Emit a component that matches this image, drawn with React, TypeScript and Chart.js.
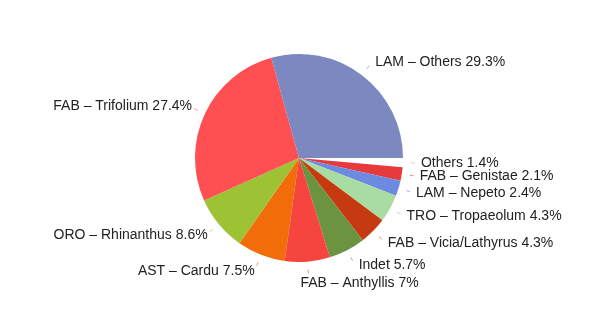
import React, { useEffect, useRef } from "react";
import { Chart, registerables } from "chart.js";

Chart.register(...registerables);

// Slices listed clockwise from 3 o'clock
const labels = [
  "Others",
  "FAB – Genistae",
  "LAM – Nepeto",
  "TRO – Tropaeolum",
  "FAB – Vicia/Lathyrus",
  "Indet",
  "FAB – Anthyllis",
  "AST – Cardu",
  "ORO – Rhinanthus",
  "FAB – Trifolium",
  "LAM – Others",
];

const shares = [1.4, 2.1, 2.4, 4.3, 4.3, 5.7, 7, 7.5, 8.6, 27.4, 29.3];

const colors = [
  "#FFFFFF",
  "#E63A3D",
  "#6C8BE0",
  "#A9DCA2",
  "#C63A12",
  "#6C9340",
  "#F6443F",
  "#F26C0A",
  "#9DC234",
  "#FE5053",
  "#7C88C0",
];

const tickColors = [
  "#B0B0B0",
  "#E63A3D",
  "#6C8BE0",
  "#8FBF88",
  "#C63A12",
  "#6C9340",
  "#F6443F",
  "#F26C0A",
  "#9DC234",
  "#FE5053",
  "#7C88C0",
];

const outsideLabels = {
  id: "outsideLabels",
  afterDatasetsDraw(chart: any) {
    const ctx = chart.ctx as CanvasRenderingContext2D;
    const meta = chart.getDatasetMeta(0);
    ctx.save();
    ctx.font = '14px "Liberation Sans", Arial, sans-serif';
    ctx.textBaseline = "middle";
    meta.data.forEach((arc: any, i: number) => {
      const { x, y, startAngle, endAngle, outerRadius } = arc.getProps(
        ["x", "y", "startAngle", "endAngle", "outerRadius"],
        true
      );
      const mid = (startAngle + endAngle) / 2;
      const c = Math.cos(mid);
      const s = Math.sin(mid);
      const r0 = outerRadius + 8;
      const r1 = outerRadius + 12;
      const ax = x + c * r1;
      const ay = y + s * r1;

      ctx.globalAlpha = 0.6;
      ctx.strokeStyle = tickColors[i];
      ctx.lineWidth = 1;
      ctx.beginPath();
      ctx.moveTo(x + c * r0, y + s * r0);
      ctx.lineTo(ax, ay);
      ctx.stroke();
      ctx.globalAlpha = 1;

      const text = `${labels[i]} ${shares[i]}%`;
      ctx.fillStyle = "#222";
      let tx: number;
      let ty: number;
      if (Math.abs(c) > 0.25) {
        ctx.textAlign = c > 0 ? "left" : "right";
        tx = ax + (c > 0 ? 6 : -2);
        ty = ay + s * 5;
      } else {
        ctx.textAlign = c >= 0 ? "left" : "right";
        tx = ax + (c >= 0 ? -8 : 8);
        ty = ay + Math.sign(s) * 10;
      }
      ctx.fillText(text, tx, ty);
    });
    ctx.restore();
  },
};

export default function App() {
  const canvasRef = useRef<HTMLCanvasElement | null>(null);

  useEffect(() => {
    if (!canvasRef.current) return;
    const chart = new Chart(canvasRef.current, {
      type: "pie",
      data: {
        labels,
        datasets: [
          {
            data: shares,
            backgroundColor: colors,
            borderWidth: 0,
            hoverOffset: 0,
          },
        ],
      },
      options: {
        animation: false,
        responsive: false,
        rotation: 90,
        layout: { padding: { top: 54, bottom: 48, left: 100, right: 102 } },
        plugins: {
          legend: { display: false },
          tooltip: { enabled: false },
        },
      },
      plugins: [outsideLabels],
    });
    return () => chart.destroy();
  }, []);

  return (
    <div style={{ position: "fixed", left: 0, top: 0, width: 600, height: 310, background: "#fff" }}>
      <canvas ref={canvasRef} width={600} height={310} style={{ width: 600, height: 310 }} />
    </div>
  );
}
